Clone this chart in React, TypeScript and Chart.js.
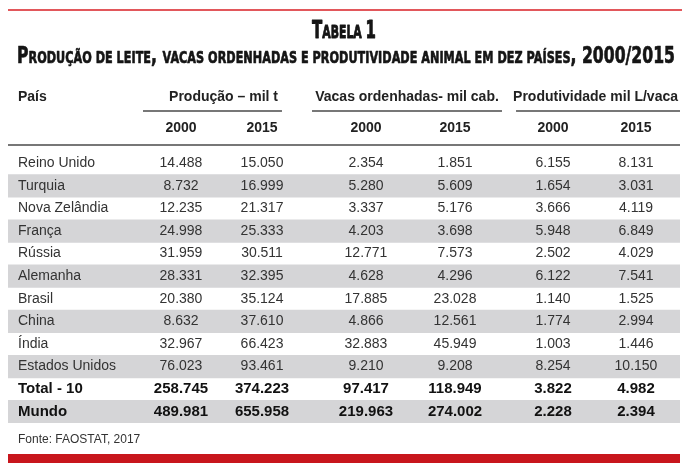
import React, { useEffect, useRef } from "react";
import { Chart, registerables } from "chart.js";

Chart.register(...registerables);

// ---------- data ----------
const title = "Tabela 1";
const subtitle = "Produção de leite, vacas ordenhadas e produtividade animal em dez países, 2000/2015";
const firstHeader = "País";
const groups = ["Produção – mil t", "Vacas ordenhadas- mil cab.", "Produtividade mil L/vaca"];
const years = ["2000", "2015"];
const source = "Fonte: FAOSTAT, 2017";

const countries = [
  "Reino Unido", "Turquia", "Nova Zelândia", "França", "Rússia", "Alemanha",
  "Brasil", "China", "Índia", "Estados Unidos", "Total - 10", "Mundo",
];
const prod2000 = [14488, 8732, 12235, 24998, 31959, 28331, 20380, 8632, 32967, 76023, 258745, 489981];
const prod2015 = [15050, 16999, 21317, 25333, 30511, 32395, 35124, 37610, 66423, 93461, 374223, 655958];
const cows2000 = [2354, 5280, 3337, 4203, 12771, 4628, 17885, 4866, 32883, 9210, 97417, 219963];
const cows2015 = [1851, 5609, 5176, 3698, 7573, 4296, 23028, 12561, 45949, 9208, 118949, 274002];
const yield2000 = [6155, 1654, 3666, 5948, 2502, 6122, 1140, 1774, 1003, 8254, 3822, 2228];
const yield2015 = [8131, 3031, 4119, 6849, 4029, 7541, 1525, 2994, 1446, 10150, 4982, 2394];
const totalRows = 2; // the last rows are totals (bold)

// ---------- layout / style ----------
const FONT = "'Liberation Sans', Arial, sans-serif";
const TITLE_FONT = "'DejaVu Sans', sans-serif";
const COL_X = [25.74, 37.8, 53.27, 66.52, 81.1, 93.45]; // % of table width
const GROUP_TEXT_X = [32.07, 59.38, 87.43];
const GROUP_SPAN = [[20.09, 40.77], [45.24, 73.51], [75.6, 100]];

const fmt = (n: number) => String(n).replace(/\B(?=(\d{3})+(?!\d))/g, ".");

function drawSmallCaps(
  ctx: CanvasRenderingContext2D, text: string, cx: number, baseline: number,
  big: number, small: number, targetW: number, weightStroke: number
) {
  const runs: { s: string; size: number; w: number }[] = [];
  let prevSmall = false;
  for (const ch of text) {
    const isLower = ch !== ch.toUpperCase();
    const isSpace = ch === " ";
    const sm = isLower || (isSpace && prevSmall);
    const size = sm ? small : big;
    const s = sm ? ch.toUpperCase() : ch;
    const last = runs[runs.length - 1];
    if (last && last.size === size) last.s += s;
    else runs.push({ s, size, w: 0 });
    prevSmall = sm;
  }
  let W = 0;
  for (const r of runs) {
    ctx.font = `bold ${r.size}px ${TITLE_FONT}`;
    r.w = ctx.measureText(r.s).width;
    W += r.w;
  }
  const sx = targetW / W;
  ctx.save();
  ctx.translate(cx - targetW / 2, baseline);
  ctx.scale(sx, 1);
  ctx.textAlign = "left";
  ctx.textBaseline = "alphabetic";
  ctx.lineJoin = "round";
  ctx.lineWidth = weightStroke;
  ctx.strokeStyle = ctx.fillStyle;
  let x = 0;
  for (const r of runs) {
    ctx.font = `bold ${r.size}px ${TITLE_FONT}`;
    ctx.fillText(r.s, x, 0);
    if (weightStroke > 0) ctx.strokeText(r.s, x, 0);
    x += r.w;
  }
  ctx.restore();
}

const tablePlugin = {
  id: "tableText",
  afterDraw(chart: any) {
    const { ctx, chartArea } = chart;
    const xs = chart.scales.x;
    const ys = chart.scales.y;
    const px = (v: number) => xs.getPixelForValue(v);
    ctx.save();

    // top red rule
    ctx.fillStyle = "#e2575b";
    ctx.fillRect(0, 1, chart.width, 2);

    // title + subtitle
    ctx.fillStyle = "#151515";
    drawSmallCaps(ctx, title, px(50), 30, 24.5, 17.8, 64, 0.9);
    drawSmallCaps(ctx, subtitle, px(50) + 2, 55, 23, 16.5, 658, 0.7);

    // header row
    ctx.fillStyle = "#222";
    ctx.textBaseline = "middle";
    ctx.font = `bold 14px ${FONT}`;
    ctx.textAlign = "left";
    ctx.fillText(firstHeader, chartArea.left + 10, 89);
    ctx.textAlign = "center";
    groups.forEach((g, i) => ctx.fillText(g, px(GROUP_TEXT_X[i]), 89));

    ctx.strokeStyle = "#4a4a4a";
    ctx.lineWidth = 1.5;
    GROUP_SPAN.forEach(([a, b]) => {
      ctx.beginPath();
      ctx.moveTo(px(a), 103);
      ctx.lineTo(px(b), 103);
      ctx.stroke();
    });

    COL_X.forEach((c, i) => ctx.fillText(years[i % 2], px(c), 120));

    ctx.beginPath();
    ctx.moveTo(px(0), 137);
    ctx.lineTo(px(100), 137);
    ctx.stroke();

    // cells
    const cols = [prod2000, prod2015, cows2000, cows2015, yield2000, yield2015];
    countries.forEach((_, r) => {
      const isTotal = r >= countries.length - totalRows;
      ctx.font = isTotal ? `bold 15px ${FONT}` : `14px ${FONT}`;
      ctx.fillStyle = isTotal ? "#111" : "#333";
      const y = ys.getPixelForValue(r);
      cols.forEach((col, c) => ctx.fillText(fmt(col[r]), px(COL_X[c]), y));
    });

    // source
    ctx.textAlign = "left";
    ctx.font = `12px ${FONT}`;
    ctx.fillStyle = "#333";
    ctx.fillText(source, chartArea.left + 10, 432);

    // bottom red bar
    ctx.fillStyle = "#c8161d";
    ctx.fillRect(px(0), 446, px(100) - px(0), 9);
    ctx.restore();
  },
};

export default function App() {
  const ref = useRef<HTMLCanvasElement>(null);
  useEffect(() => {
    const chart = new Chart(ref.current as HTMLCanvasElement, {
      type: "bar",
      data: {
        labels: countries,
        datasets: [
          {
            data: countries.map((_, i) => (i % 2 === 1 ? [0, 100] : null)) as any,
            backgroundColor: "#d5d5d7",
            borderWidth: 0,
            barPercentage: 1,
            categoryPercentage: 1,
          },
        ],
      },
      options: {
        indexAxis: "y",
        animation: false,
        responsive: true,
        maintainAspectRatio: false,
        devicePixelRatio: 1,
        layout: { padding: { top: 144, bottom: 42, left: 0, right: 2 } },
        plugins: {
          legend: { display: false },
          tooltip: { enabled: false },
          title: { display: false },
        },
        scales: {
          x: { display: false, min: 0, max: 100 },
          y: {
            grid: { display: false, drawTicks: false },
            border: { display: false },
            afterFit: (s: any) => { s.width = 0; },
            ticks: {
              mirror: true,
              padding: 10,
              z: 1,
              color: (c: any) => (c.index >= countries.length - totalRows ? "#111" : "#333"),
              font: (c: any) => {
                const t = c.index >= countries.length - totalRows;
                return { family: FONT, size: t ? 15 : 14, weight: t ? "bold" : "normal" };
              },
            },
          },
        },
      },
      plugins: [tablePlugin],
    } as any);
    return () => chart.destroy();
  }, []);
  return (
    <div style={{ position: "relative", width: 674, height: 457 }}>
      <canvas ref={ref} />
    </div>
  );
}
